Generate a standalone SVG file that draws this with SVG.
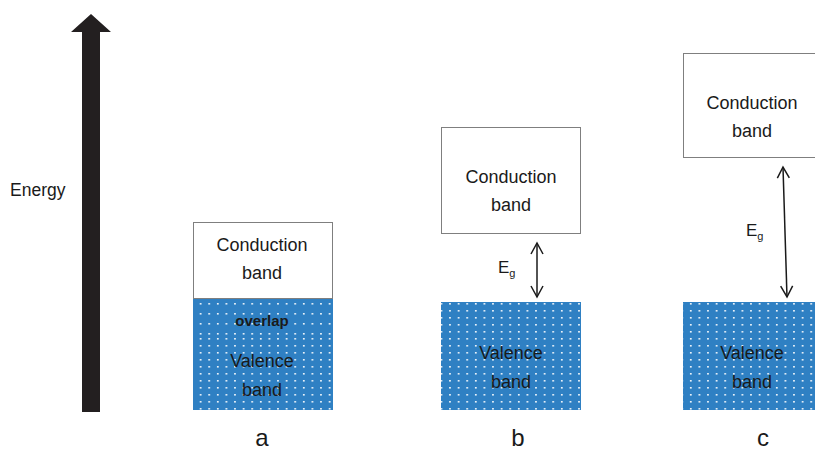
<svg xmlns="http://www.w3.org/2000/svg" width="815" height="452" viewBox="0 0 815 452">
<defs>
<pattern id="dots" x="0" y="0" width="8.6" height="7" patternUnits="userSpaceOnUse">
<rect width="8.6" height="7" fill="#2f80c3"/>
<rect x="2" y="2" width="1.6" height="1.6" fill="#ffffff"/>
</pattern>
<pattern id="dots2" x="0" y="0" width="8.6" height="10" patternUnits="userSpaceOnUse">
<rect width="8.6" height="10" fill="#2f80c3"/>
<rect x="2" y="3" width="1.6" height="1.6" fill="#ffffff"/>
</pattern>
<marker id="ah" markerWidth="14" markerHeight="14" refX="12" refY="7" orient="auto-start-reverse" markerUnits="userSpaceOnUse">
<path d="M1,1 L12,7 L1,13" fill="none" stroke="#1a1a1a" stroke-width="1.5"/>
</marker>
</defs>
<style>
.t{font-family:"Liberation Sans",Arial,sans-serif;font-size:18px;fill:#1a1a1a;text-anchor:middle}
.cb{fill:#ffffff;stroke:#7f7f7f;stroke-width:1}
.vb{fill:url(#dots)}
.lbl{font-family:"Liberation Sans",Arial,sans-serif;font-size:24px;fill:#1a1a1a;text-anchor:middle}
.eg{font-family:"Liberation Sans",Arial,sans-serif;font-size:17px;fill:#1a1a1a}
.con{stroke:#1a1a1a;stroke-width:1.5;fill:none;marker-start:url(#ah);marker-end:url(#ah)}
</style>
<rect width="815" height="452" fill="#ffffff"/>
<g id="energy-axis">
<path d="M82,412 L82,32 L71,32 L91,14 L111,32 L100,32 L100,412 Z" fill="#231f20"/>
<text x="10" y="196" style="font-family:'Liberation Sans',Arial,sans-serif;font-size:17.5px;fill:#1a1a1a">Energy</text>
</g>
<g id="a-conduction">
<rect class="cb" x="193.5" y="222.5" width="139" height="76"/>
<text class="t" x="262" y="251">Conduction</text>
<text class="t" x="262" y="279">band</text>
</g>
<g id="a-valence">
<rect class="vb" x="193" y="299" width="140" height="111"/>
<rect x="193" y="299" width="140" height="36" fill="url(#dots2)"/>
<text x="262" y="326" style="font-family:'Liberation Sans',Arial,sans-serif;font-size:15px;font-weight:bold;fill:#1a1a1a;text-anchor:middle">overlap</text>
<text class="t" x="262" y="367">Valence</text>
<text class="t" x="262" y="396">band</text>
</g>
<g id="b-conduction">
<rect class="cb" x="441.5" y="127.5" width="139" height="106"/>
<text class="t" x="511" y="183">Conduction</text>
<text class="t" x="511" y="211">band</text>
</g>
<g id="b-valence">
<rect class="vb" x="441" y="302" width="140" height="108"/>
<text class="t" x="511" y="359">Valence</text>
<text class="t" x="511" y="388">band</text>
</g>
<g id="c-conduction">
<rect class="cb" x="683.5" y="53.5" width="139" height="104"/>
<text class="t" x="752" y="109">Conduction</text>
<text class="t" x="752" y="137">band</text>
</g>
<g id="c-valence">
<rect class="vb" x="683" y="302" width="132" height="108"/>
<text class="t" x="752" y="359">Valence</text>
<text class="t" x="752" y="388">band</text>
</g>
<g id="connectors">
<line class="con" x1="537" y1="243" x2="537" y2="297"/>
<line class="con" x1="783" y1="167" x2="787" y2="297"/>
</g>
<g id="labels">
<text class="eg" x="498" y="273">E<tspan font-size="11" dy="4">g</tspan></text>
<text class="eg" x="746" y="236">E<tspan font-size="11" dy="4">g</tspan></text>
<text class="lbl" x="262" y="446">a</text>
<text class="lbl" x="518" y="446">b</text>
<text class="lbl" x="763" y="446">c</text>
</g>
</svg>
